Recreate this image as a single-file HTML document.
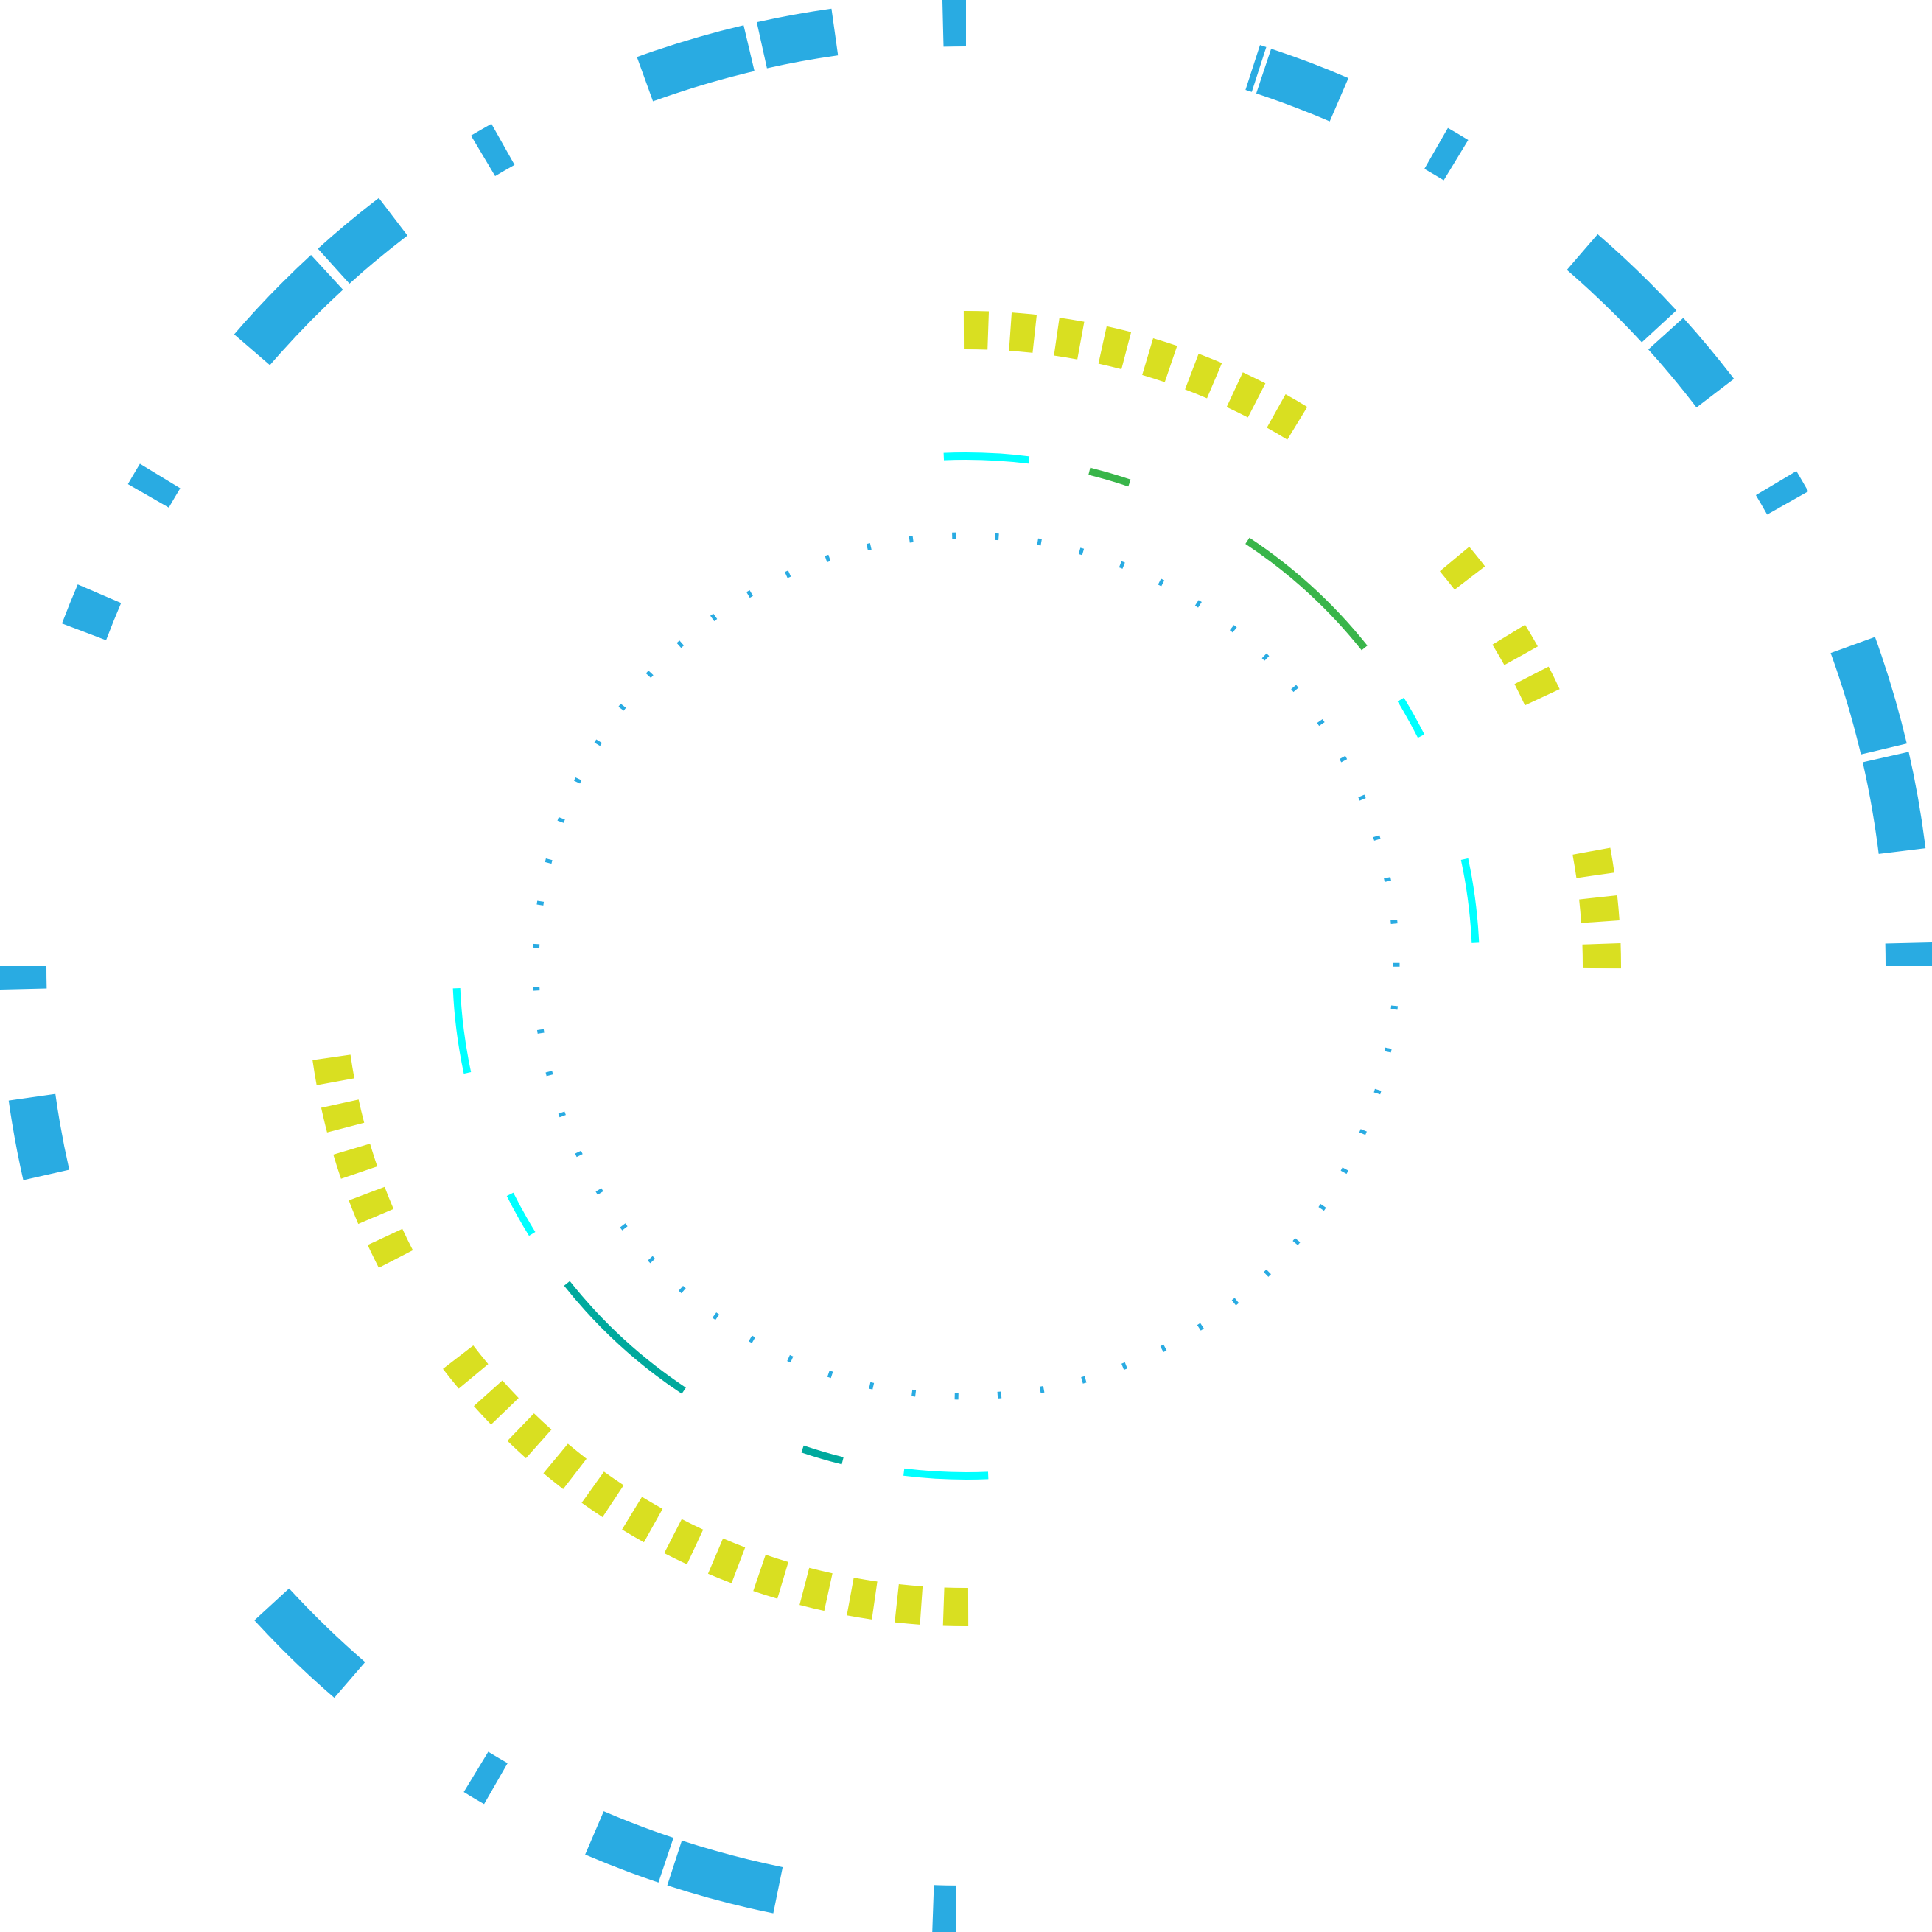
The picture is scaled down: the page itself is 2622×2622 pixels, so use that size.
<!DOCTYPE html>
<html>
<head>
<meta charset="utf-8">
<style>
  html,body{margin:0;padding:0;background:#ffffff;}
  body{width:2622px;height:2622px;overflow:hidden;}
  svg{display:block;}
</style>
</head>
<body>
<svg id="chart" width="2622" height="2622" viewBox="0 0 2622 2622" xmlns="http://www.w3.org/2000/svg">
  <g id="outer-ring"></g>
  <g id="yellow-ring"></g>
  <g id="inner-ring"></g>
  <g id="dot-ring"></g>
</svg>
<script>
// ---- data (angles in degrees, 0 = right, clockwise positive) ----
const outerStarts = [-91.4,-109.9,-102.5,-120.8,-139.2,-132.1,-150.1,-159.25,178.6,167.2,130.8,119.9,108.55,101.5,90.6,-72.3,-71.6,-60.1,-49.2,-42.1,-30.8,-19.9,-12.8,-1.4];
const outerEnds   = [-90.0,-103.3,-98.0,-119.4,-132.65,-127.4,-148.7,-156.75,180.0,172.0,137.4,121.3,113.2,108.0,92.0,-71.9,-66.7,-58.7,-42.7,-37.4,-29.4,-13.3,-7.0,0.0];

const yellowTopIdx = [0,1,2,3,4,5,6,7,12,14,15,19,20,21];
const yellowBottomIdx = [0,1,2,3,4,5,6,7,8,9,10,11,12,15,16,17,18,19];
const yellowTopStart = -89.1;
const yellowBottomStart = 90.9;
const yellowStep = 4.2;
const yellowDash = 2.2;

const innerStarts = [-92.5,-76.0,-56.5,-31.5,-12.1,167.9,148.3,123.6,104.0,87.5];
const innerEnds   = [-82.9,-71.3,-38.6,-26.8,-2.6,177.5,153.4,141.5,108.7,97.0];
const innerColors = ["#00FFFF","#39B54A","#39B54A","#00FFFF","#00FFFF","#00FFFF","#00FFFF","#00A99D","#00A99D","#00FFFF"];

const dotCount = 63;
const dotStart = -91.6;

// ---- geometry helpers ----
const CX = 1311, CY = 1311;
const NS = "http://www.w3.org/2000/svg";
function pt(r, a){ const t = a*Math.PI/180; return [CX + r*Math.cos(t), CY + r*Math.sin(t)]; }
function arcPath(r, a0, a1){
  const p0 = pt(r,a0), p1 = pt(r,a1);
  const large = (a1 - a0) > 180 ? 1 : 0;
  return "M"+p0[0].toFixed(2)+" "+p0[1].toFixed(2)+" A"+r+" "+r+" 0 "+large+" 1 "+p1[0].toFixed(2)+" "+p1[1].toFixed(2);
}
function addArc(group, r, w, a0, a1, color){
  const p = document.createElementNS(NS, "path");
  p.setAttribute("d", arcPath(r, a0, a1));
  p.setAttribute("fill", "none");
  p.setAttribute("stroke", color);
  p.setAttribute("stroke-width", w);
  p.setAttribute("stroke-linecap", "butt");
  group.appendChild(p);
  return p;
}

// outer blue ring
const gOuter = document.getElementById("outer-ring");
for (let i = 0; i < outerStarts.length; i++){
  const el = addArc(gOuter, 1280, 64, outerStarts[i], outerEnds[i], "#29ABE2");
  
  
}

// yellow dashes
const gYellow = document.getElementById("yellow-ring");
yellowTopIdx.forEach(k => {
  const c = yellowTopStart + k*yellowStep;
  const el = addArc(gYellow, 863, 52, c - yellowDash/2, c + yellowDash/2, "#D9DF21");
  
  
});
yellowBottomIdx.forEach(k => {
  const c = yellowBottomStart + k*yellowStep;
  const el = addArc(gYellow, 870, 52, c - yellowDash/2, c + yellowDash/2, "#D9DF21");
  
  
});

// inner accent arcs
const gInner = document.getElementById("inner-ring");
for (let i = 0; i < innerStarts.length; i++){
  const el = addArc(gInner, 692, 10, innerStarts[i], innerEnds[i], innerColors[i]);
  
  
}

// dotted ring
const gDot = document.getElementById("dot-ring");
const dotStep = 360/dotCount;
for (let k = 0; k < dotCount; k++){
  const c = dotStart + k*dotStep;
  const half = (2.5/584)*180/Math.PI;
  const el = addArc(gDot, 584, 9, c - half, c + half, "#29ABE2");
  
  
}
</script>
</body>
</html>
